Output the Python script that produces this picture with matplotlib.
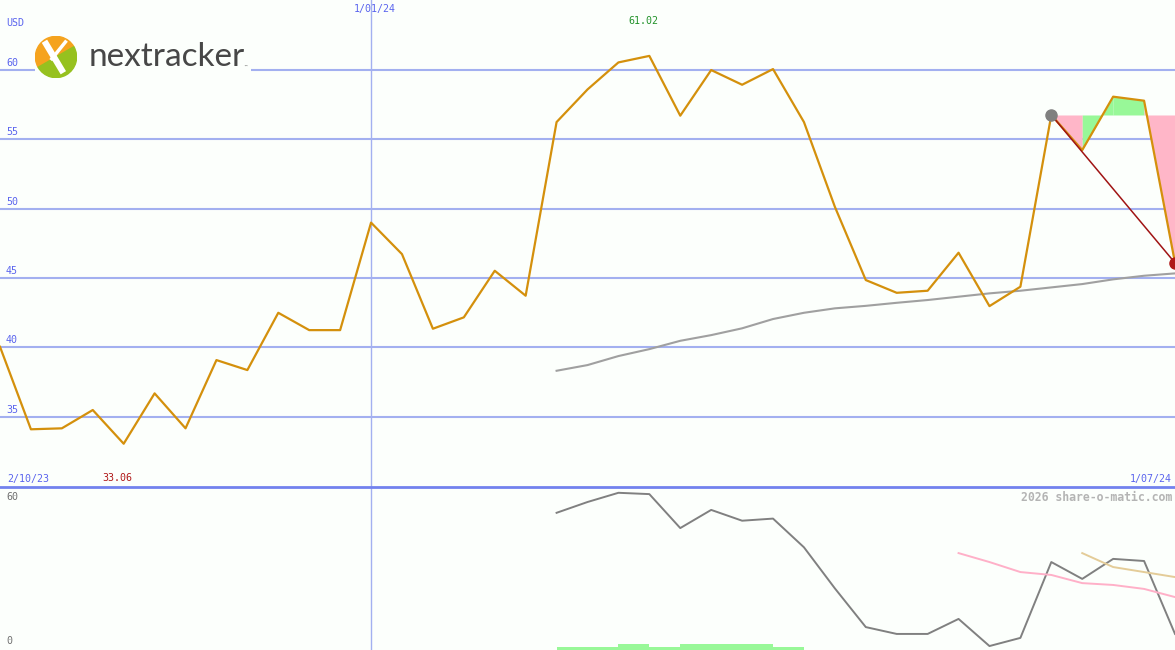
import matplotlib
matplotlib.use("Agg")
import matplotlib.pyplot as plt
from matplotlib.patches import Wedge, Rectangle, Circle
from matplotlib.lines import Line2D
import numpy as np

# ---------------- data ----------------
price = [40.05, 34.10, 34.17, 35.49, 33.06, 36.69, 34.17, 39.09, 38.37, 42.50,
         41.25, 41.25, 49.00, 46.73, 41.35, 42.17, 45.53, 43.73, 56.25, 58.60,
         60.55, 61.02, 56.71, 60.00, 58.94, 60.07, 56.25, 50.14, 44.86, 43.94,
         44.09, 46.83, 42.98, 44.38, 56.76, 54.23, 58.08, 57.79, 46.10]
ma_start = 18
ma_upper = [38.32, 38.73, 39.38, 39.88, 40.48, 40.89, 41.38, 42.05, 42.50, 42.82,
            43.00, 43.22, 43.42, 43.66, 43.90, 44.09, 44.33, 44.57, 44.91, 45.17, 45.34]
osc_start = 18
osc = [52.1, 56.2, 59.7, 59.2, 46.3, 53.2, 49.1, 49.9, 39.0, 23.4,
       8.7, 6.1, 6.1, 11.8, 1.5, 4.6, 33.4, 27.0, 34.6, 33.8, 6.1]
pink_start = 31
osc_pink = [36.8, 33.4, 29.6, 28.5, 25.4, 24.7, 23.2, 20.1]
tan_start = 35
osc_tan = [36.8, 31.5, 29.6, 27.7]
bar_start = 18
bars = [1.1, 1.1, 2.3, 1.1, 2.3, 2.3, 2.3, 1.1]
price_ticks = [35, 40, 45, 50, 55, 60]
osc_ticks = ["60", "0"]
date_first, date_mid, date_last = "2/10/23", "1/01/24", "1/07/24"
mid_index = 12
trend_start = 34
currency = "USD"
# --------------------------------------

W, H = 1175, 650
BG = "#fcfffc"
GRID = "#a3b0f0"
LBL = "#5a64ee"
PRICE_C = "#d4900c"
MONO = "DejaVu Sans Mono"

fig = plt.figure(figsize=(W / 100, H / 100), dpi=100, facecolor=BG)

def fy(py):
    return 1 - py / H

def fx(px):
    return px / W

split = 487
n = len(price)
x = np.arange(n)

ax = fig.add_axes([0, fy(split), 1, split / H])
ax.set_facecolor(BG)
ax.set_xlim(0, n - 1)
ax.set_ylim(29.94, 65.05)
ax.axis("off")

for t in price_ticks:
    ax.axhline(t, color=GRID, lw=1.5, zorder=1)
ax.axvline(mid_index, color=GRID, lw=1.0, zorder=1)

# upper moving average
ax.plot(np.arange(ma_start, ma_start + len(ma_upper)), ma_upper, color="#a0a0a0", lw=1.5, zorder=2)

# trend fill
ref = price[trend_start]
for i in range(trend_start, n - 1):
    xs = np.linspace(i, i + 1, 30)
    ys = np.interp(xs, x, price)
    col = "#98f898" if price[i + 1] >= ref else "#ffb6c8"
    ax.fill_between(xs, ys, ref, color=col, lw=0, zorder=2)

ax.plot(x, price, color=PRICE_C, lw=1.6, zorder=4)
ax.plot([trend_start, n - 1], [ref, price[-1]], color="#a01414", lw=1.1, zorder=5)
ax.plot([trend_start], [ref], "o", ms=8, color="#808080", zorder=5, clip_on=False)
ax.plot([n - 1], [price[-1]], "o", ms=8, color="#b01818", zorder=6, clip_on=True)

# lower panel
ax2 = fig.add_axes([0, 0, 1, (H - split) / H])
ax2.set_facecolor(BG)
ax2.set_xlim(0, n - 1)
ax2.set_ylim(0, 61.9)
ax2.axis("off")
ax2.axvline(mid_index, color=GRID, lw=1.0, zorder=1)
ax2.bar(np.arange(bar_start, bar_start + len(bars)), bars, width=1, align="edge",
        color="#98f898", lw=0, zorder=2)
ax2.plot(np.arange(osc_start, osc_start + len(osc)), osc, color="#808080", lw=1.4, zorder=3)
ax2.plot(np.arange(pink_start, pink_start + len(osc_pink)), osc_pink, color="#ffb0c8", lw=1.4, zorder=3)
ax2.plot(np.arange(tan_start, tan_start + len(osc_tan)), osc_tan, color="#e4cc98", lw=1.4, zorder=3)

# separator line
fig.add_artist(Line2D([0, 1], [fy(split), fy(split)], color="#7282ee", lw=2.0))

# texts
fs = 7.2
fig.text(fx(6), fy(18), currency, color=LBL, fontsize=fs, family=MONO, va="top", ha="left")
for t in price_ticks:
    ax.annotate(str(t), xy=(0, t), xytext=(6, 2), textcoords="offset pixels",
                color=LBL, fontsize=fs, family=MONO, va="bottom", ha="left")
fig.text(fx(375), fy(4), date_mid, color=LBL, fontsize=fs, family=MONO, va="top", ha="center")
imax = int(np.argmax(price))
ax.annotate(f"{price[imax]:.2f}", xy=(imax, 65.05), xytext=(-6, -16), textcoords="offset pixels",
            color="#22922a", fontsize=fs, family=MONO, va="top", ha="center")
imin = int(np.argmin(price))
ax.annotate(f"{price[imin]:.2f}", xy=(imin, 29.94), xytext=(-6, 4), textcoords="offset pixels",
            color="#b01818", fontsize=fs, family=MONO, va="bottom", ha="center")
fig.text(fx(7), fy(484), date_first, color=LBL, fontsize=fs, family=MONO, va="bottom", ha="left")
fig.text(fx(1172), fy(484), date_last, color=LBL, fontsize=fs, family=MONO, va="bottom", ha="right")
fig.text(fx(1172), fy(491), "2026 share-o-matic.com", color="#b4b4b4", fontsize=8.3,
         family=MONO, weight="bold", va="top", ha="right")
fig.text(fx(6), fy(492), osc_ticks[0], color="#707070", fontsize=fs, family=MONO, va="top", ha="left")
fig.text(fx(6), fy(646), osc_ticks[1], color="#707070", fontsize=fs, family=MONO, va="bottom", ha="left")

# logo
fig.add_artist(Rectangle((fx(35), fy(80)), fx(216), 45 / H, transform=fig.transFigure,
                         facecolor=BG, edgecolor="none", zorder=3))
lax = fig.add_axes([fx(35), fy(78), 42 / W, 42 / H], zorder=4)
lax.set_xlim(-1, 1)
lax.set_ylim(-1, 1)
lax.axis("off")
lax.add_patch(Wedge((0, 0), 0.98, 30, 210, color="#f5a31e"))
lax.add_patch(Wedge((0, 0), 0.98, 210, 390, color="#96c11f"))
lax.plot([-0.55, 0.35], [0.75, -0.75], color="white", lw=4.5, solid_capstyle="butt")
lax.plot([-0.25, 0.5], [-0.15, 0.78], color="white", lw=2.5, solid_capstyle="butt")
fig.text(fx(89), fy(57), "nextracker", color="#474747", fontsize=24, family="Lato",
         weight="normal", va="center", ha="left", zorder=5)
fig.text(fx(243), fy(67), "™", color="#4a4a4a", fontsize=3, family="DejaVu Sans", va="center", zorder=5)

fig.savefig("out.png", dpi=100, facecolor=BG)
